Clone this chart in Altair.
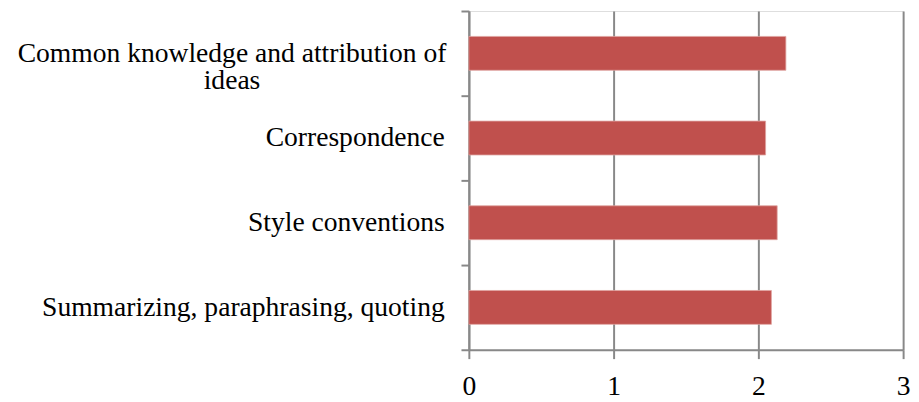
import altair as alt
import pandas as pd

categories = [
    "Common knowledge and attribution of ideas",
    "Correspondence",
    "Style conventions",
    "Summarizing, paraphrasing, quoting",
]
values = [2.19, 2.05, 2.13, 2.09]
x_ticks = [0, 1, 2, 3]

df = pd.DataFrame({"category": categories, "value": values})

FONT = "Liberation Serif"
FSIZE = 28
GRID = "#888888"
first = categories[0]

label_expr = (
    f"datum.value == '{first}' ? ['Common knowledge and attribution of', 'ideas'] : datum.value"
)

chart = (
    alt.Chart(df)
    .mark_bar(
        color="#C0504D",
        stroke="#DFA3A1",
        strokeWidth=0.8,
        height=alt.RelativeBandSize(0.4),
    )
    .encode(
        x=alt.X(
            "value:Q",
            scale=alt.Scale(domain=[0, 3], nice=False),
            axis=alt.Axis(
                values=x_ticks,
                title=None,
                grid=True,
                gridColor=GRID,
                gridWidth=2,
                domainColor=GRID,
                domainWidth=2,
                tickColor=GRID,
                tickWidth=2,
                tickSize=9,
                labelFont=FONT,
                labelFontSize=FSIZE,
                labelColor="#000000",
                labelPadding=14,
                labelFlush=False,
            ),
        ),
        y=alt.Y(
            "category:N",
            sort=categories,
            scale=alt.Scale(paddingInner=0, paddingOuter=0),
            axis=alt.Axis(
                title=None,
                grid=False,
                tickBand="extent",
                domainColor=GRID,
                domainWidth=2,
                tickColor=GRID,
                tickWidth=2,
                tickSize=8,
                labelFont=FONT,
                labelFontSize=FSIZE,
                labelColor="#000000",
                labelExpr=label_expr,
                labelLineHeight=28,
                labelLimit=600,
                labelAlign={
                    "condition": {"test": f"datum.value == '{first}'", "value": "center"},
                    "value": "right",
                },
                labelPadding={
                    "condition": {"test": f"datum.value == '{first}'", "value": 233},
                    "value": 17,
                },
            ),
        ),
    )
    .properties(
        width=441,
        height=344,
        autosize=alt.AutoSizeParams(type="none"),
        padding={"left": 468, "top": 0, "right": 8, "bottom": 50},
    )
    .configure_view(stroke=None)
    .configure(background="white")
)

chart.save("out.html", embed_options={"renderer": "svg", "actions": False})
